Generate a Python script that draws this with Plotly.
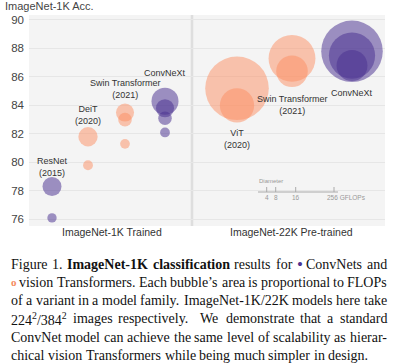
import plotly.graph_objects as go

# ---------------- data ----------------
family = ["ResNet", "ResNet", "DeiT", "DeiT",
          "Swin Transformer", "Swin Transformer", "Swin Transformer",
          "ConvNeXt", "ConvNeXt", "ConvNeXt", "ConvNeXt",
          "ViT", "ViT", "Swin Transformer", "Swin Transformer",
          "ConvNeXt", "ConvNeXt", "ConvNeXt"]
pretrain = ["1K"] * 11 + ["22K"] * 7
kind = ["ConvNet", "ConvNet", "Transformer", "Transformer",
        "Transformer", "Transformer", "Transformer",
        "ConvNet", "ConvNet", "ConvNet", "ConvNet",
        "Transformer", "Transformer", "Transformer", "Transformer",
        "ConvNet", "ConvNet", "ConvNet"]
acc = [78.3, 76.1, 81.8, 79.8,
       83.5, 83.0, 81.3,
       84.3, 83.8, 83.1, 82.1,
       85.2, 84.0, 87.3, 86.4,
       87.8, 87.5, 86.8]
gflops = [17.0, 4.1, 17.6, 4.6,
          15.4, 8.7, 4.5,
          34.4, 15.4, 8.7, 4.5,
          191.1, 55.5, 103.9, 47.1,
          179.0, 101.0, 45.1]

family_labels = [("ResNet", "1K", "ResNet<br>(2015)"),
                 ("DeiT", "1K", "DeiT<br>(2020)"),
                 ("Swin Transformer", "1K", "Swin Transformer<br>(2021)"),
                 ("ConvNeXt", "1K", "ConvNeXt"),
                 ("ViT", "22K", "ViT<br>(2020)"),
                 ("Swin Transformer", "22K", "Swin Transformer<br>(2021)"),
                 ("ConvNeXt", "22K", "ConvNeXt")]
y_ticks = [76, 78, 80, 82, 84, 86, 88, 90]
group_titles = ["ImageNet-1K Trained", "ImageNet-22K Pre-trained"]
legend_ticks = ["4", "8", "16", "256"]

CAPTION = [
    ["Figure", "1.", "**ImageNet-1K**", "**classification**", "results", "for", "{dot}", "ConvNets", "and"],
    ["{ring}", "vision", "Transformers.", "Each", "bubble’s", "area", "is", "proportional", "to", "FLOPs"],
    ["of", "a", "variant", "in", "a", "model", "family.", "ImageNet-1K/22K", "models", "here", "take"],
    ["{sq}", "images", "respectively.", "We", "demonstrate", "that", "a", "standard"],
    ["ConvNet", "model", "can", "achieve", "the", "same", "level", "of", "scalability", "as", "hierar-"],
    ["chical", "vision", "Transformers", "while", "being", "much", "simpler", "in", "design."],
]

# ---------------- layout constants ----------------
W, H = 407, 364
PL, PR, PT, PB = 29, 385, 15, 226
YR = [75.53, 90.35]
FAMILY_X = {("ResNet", "1K"): 52, ("DeiT", "1K"): 88, ("Swin Transformer", "1K"): 125,
            ("ConvNeXt", "1K"): 165, ("ViT", "22K"): 237,
            ("Swin Transformer", "22K"): 292, ("ConvNeXt", "22K"): 352}
LABEL_Y = {("ResNet", "1K"): 167, ("DeiT", "1K"): 114.5, ("Swin Transformer", "1K"): 89.3,
           ("ConvNeXt", "1K"): 72.7, ("ViT", "22K"): 138.8,
           ("Swin Transformer", "22K"): 105, ("ConvNeXt", "22K"): 93.3}
COLORS = {"ConvNet": "rgba(75,50,145,0.75)", "Transformer": "rgba(252,140,95,0.7)"}
SANS = "Liberation Sans, Arial, sans-serif"
SERIF = "Liberation Serif, Times New Roman, serif"


def px(x):
    return (x - PL) / (PR - PL)


def py(y):
    return (PB - y) / (PB - PT)


fig = go.Figure()
for k in ["Transformer", "ConvNet"]:
    idx = [i for i in range(len(acc)) if kind[i] == k]
    # draw larger bubbles first so small ones sit on top
    idx.sort(key=lambda i: (family[i], pretrain[i], -gflops[i]))
    fig.add_trace(go.Scatter(
        x=[FAMILY_X[(family[i], pretrain[i])] for i in idx],
        y=[acc[i] for i in idx],
        mode="markers",
        marker=dict(size=[gflops[i] for i in idx], sizemode="area", sizeref=2 / 21.16,
                    color=COLORS[k], line=dict(width=0)),
        hoverinfo="skip", showlegend=False))

ann = []
for f, p, t in family_labels:
    ann.append(dict(x=FAMILY_X[(f, p)], xref="x", y=py(LABEL_Y[(f, p)]), yref="paper",
                    text=t, showarrow=False, xanchor="center", yanchor="middle",
                    font=dict(family=SANS, size=9, color="#333")))

ann.append(dict(x=px(3), y=py(6.5), xref="paper", yref="paper", text="ImageNet-1K Acc.",
                showarrow=False, xanchor="left", yanchor="middle",
                font=dict(family=SANS, size=11, color="#444")))
for t, cx in zip(group_titles, [112, 291]):
    ann.append(dict(x=px(cx), y=py(232), xref="paper", yref="paper", text=t, showarrow=False,
                    xanchor="center", yanchor="middle",
                    font=dict(family=SANS, size=10.5, color="#333")))

# size legend
shapes = [dict(type="line", xref="x", yref="paper", x0=192, x1=192, y0=0, y1=1,
               line=dict(color="#dedede", width=2.5), layer="below")]
shapes.append(dict(type="line", xref="paper", yref="paper", x0=px(258), x1=px(338),
                   y0=py(192), y1=py(192), line=dict(color="#aaa", width=1)))
for t, tx in zip(legend_ticks, [266.7, 275.7, 295.7, 334]):
    shapes.append(dict(type="line", xref="paper", yref="paper", x0=px(tx), x1=px(tx),
                       y0=py(192), y1=py(187), line=dict(color="#aaa", width=1)))
    if t == "256":
        ann.append(dict(x=px(325), y=py(197), xref="paper", yref="paper",
                        text=t + " GFLOPs", showarrow=False, xanchor="left", yanchor="middle",
                        font=dict(family=SANS, size=6.5, color="#999")))
    else:
        ann.append(dict(x=px(tx), y=py(197), xref="paper", yref="paper",
                        text=t, showarrow=False, xanchor="center", yanchor="middle",
                        font=dict(family=SANS, size=6.5, color="#999")))
ann.append(dict(x=px(256.5), y=py(180.5), xref="paper", yref="paper", text="Diameter",
                showarrow=False, xanchor="left", yanchor="middle",
                font=dict(family=SANS, size=6, color="#999")))

# ---------------- caption (justified, Times metrics) ----------------
REG = dict(zip(" .,-/’", [250, 250, 250, 333, 278, 333]))
REG.update({str(d): 500 for d in range(10)})
REG.update(dict(zip("ABCDEFGHIJKLMNOPQRSTUVWXYZ",
                    [722, 667, 667, 722, 611, 556, 722, 722, 333, 389, 722, 611, 889, 722, 722,
                     556, 722, 667, 556, 611, 722, 722, 944, 722, 722, 611])))
REG.update(dict(zip("abcdefghijklmnopqrstuvwxyz",
                    [444, 500, 444, 500, 444, 333, 500, 500, 278, 278, 500, 278, 778, 500, 500,
                     500, 500, 333, 389, 278, 500, 500, 722, 500, 500, 444])))
BLD = dict(REG)
BLD.update({"I": 389, "K": 778, "a": 500, "m": 833, "n": 556, "t": 333, "-": 333})
FS = 14
X0, X1 = 11, 387
LINE_Y = [264, 282.3, 300.6, 318.9, 337.2, 355.5]


def word_info(w):
    if w == "{dot}":
        return "<span style='color:#4b3291;font-size:17px'>•</span>", 0.35
    if w == "{ring}":
        return "<span style='color:#f58c5f;font-size:11px'><b>o</b></span>", 0.35
    if w == "{sq}":
        return "224<sup>2</sup>/384<sup>2</sup>", 1.5 + 0.35 + 0.278 + 1.5 + 0.35
    if w.startswith("**"):
        s = w.strip("*")
        return "<b>" + s + "</b>", sum(BLD.get(c, 500) for c in s) / 1000
    return w, sum(REG.get(c, 500) for c in w) / 1000


for li, words in enumerate(CAPTION):
    infos = [word_info(w) for w in words]
    total = sum(i[1] for i in infos) * FS
    weights = [1.8 if words[j] == "respectively." else 1.0 for j in range(len(words) - 1)]
    if li < len(CAPTION) - 1:
        gap = (X1 - X0 - total) / sum(weights)
    else:
        gap = 0.25 * FS
    x = X0
    for j, (html, wd) in enumerate(infos):
        ann.append(dict(x=px(x), y=py(LINE_Y[li]), xref="paper", yref="paper", text=html,
                        showarrow=False, xanchor="left", yanchor="middle", borderpad=0,
                        borderwidth=0, font=dict(family=SERIF, size=FS, color="#111")))
        x += wd * FS + (gap * weights[j] if j < len(weights) else 0)

fig.update_layout(
    width=W, height=H,
    margin=dict(l=PL, r=W - PR, t=PT, b=H - PB, pad=0),
    paper_bgcolor="white", plot_bgcolor="#f4f4f4",
    xaxis=dict(range=[PL, PR], showgrid=False, zeroline=False, showticklabels=False,
               fixedrange=True),
    yaxis=dict(range=YR, tickvals=y_ticks, showgrid=True, gridcolor="#e6e6e6", gridwidth=1,
               zeroline=False, ticks="", ticklabelstandoff=4,
               tickfont=dict(family=SANS, size=11.5, color="#444")),
    annotations=ann, shapes=shapes, showlegend=False,
)
fig.write_html("out.html", config={"displayModeBar": False},
               post_script="document.body.style.margin='0px';document.body.style.overflow='hidden';")
